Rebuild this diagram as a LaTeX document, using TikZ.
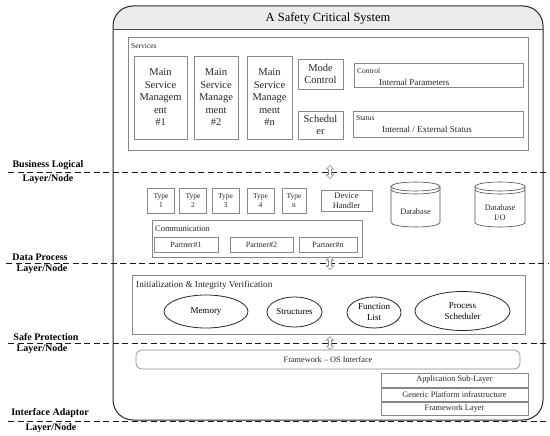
\documentclass[tikz,border=0pt]{standalone}
\usepackage{fontspec}
\setmainfont{Liberation Serif}
\usetikzlibrary{shapes.geometric,shapes.arrows}
\definecolor{boxgray}{RGB}{135,135,135}
\definecolor{titlefill}{RGB}{236,236,236}
\begin{document}
\begin{tikzpicture}[x=1pt,y=-1pt,
  box/.style={draw=boxgray, line width=0.6pt, inner sep=0pt, align=center, text=black!85},
  msm/.style={box, font=\fontsize{10.5}{12.5}\selectfont, minimum height=83pt},
  mid/.style={box, font=\fontsize{10.5}{12.5}\selectfont, minimum width=45pt},
  tiny/.style={inner sep=0pt, text=black!85, font=\fontsize{7.5}{9}\selectfont},
  small/.style={inner sep=0pt, text=black!85, font=\fontsize{8.5}{10}\selectfont},
  typebox/.style={box, font=\fontsize{7.5}{8.5}\selectfont, minimum width=27pt, minimum height=25pt},
  partner/.style={box, font=\fontsize{8}{9}\selectfont, minimum height=15pt},
  oval/.style={ellipse, draw=black!85, line width=0.8pt, inner sep=0pt, align=center, font=\fontsize{9}{11}\selectfont},
  stack/.style={box, font=\fontsize{8.3}{10}\selectfont, minimum width=147pt},
  cyl/.style={draw=black!70, line width=0.6pt},
  lab/.style={inner sep=0pt, font=\bfseries\fontsize{10}{12}\selectfont},
  layerline/.style={line width=0.9pt, dash pattern=on 6pt off 3.5pt, black!90},
  dblarrow/.style={double arrow, rotate=90, draw=boxgray, fill=white, line width=0.6pt, inner sep=1.2pt, minimum height=13pt, double arrow head extend=2.2pt}
]
\useasboundingbox (0,0) rectangle (550,436);

% outer system box
\begin{scope}
  \clip[rounded corners=20pt] (113,6) rectangle (543,420);
  \fill[titlefill] (113,6) rectangle (543,29);
\end{scope}
\draw[line width=1pt, black!85, rounded corners=20pt] (113,6) rectangle (543,420);
\draw[line width=0.6pt, black!70] (113,29) -- (543,29);
\node[inner sep=0pt, font=\fontsize{12.5}{14}\selectfont] (title) at (328,18) {A Safety Critical System};

% services
\node[box, minimum width=400pt, minimum height=113pt] (services) at (328,93.5) {};
\node[tiny, anchor=west] (servlab) at (131,46) {Services};
\node[msm, minimum width=53pt] (m1) at (160.5,97.5) {Main\\Service\\Managem\\ent\\\#1};
\node[msm, minimum width=44pt] (m2) at (216,97.5) {Main\\Service\\Manage\\ment\\\#2};
\node[msm, minimum width=45pt] (mn) at (269.5,97.5) {Main\\Service\\Manage\\ment\\\#n};
\node[mid, minimum height=30pt] (mode) at (320.5,74) {Mode\\Control};
\node[mid, minimum height=28pt] (sched) at (320.5,125) {Schedul\\er};
\node[box, minimum width=169pt, minimum height=24pt] (ctrl) at (438.5,75) {};
\node[tiny, anchor=west] (ctrllab) at (357,70.5) {Control};
\node[small, anchor=west, font=\fontsize{9}{11}\selectfont] (ctrltxt) at (379,82) {Internal Parameters};
\node[box, minimum width=170pt, minimum height=26pt] (stat) at (438,124) {};
\node[tiny, anchor=west] (statlab) at (356,118.5) {Status};
\node[small, anchor=west, font=\fontsize{9}{11}\selectfont] (stattxt) at (382,129) {Internal / External Status};

% data process
\node[typebox] (t1) at (161,200.5) {Type\\1};
\node[typebox] (t2) at (193,200.5) {Type\\2};
\node[typebox] (t3) at (225.5,200.5) {Type\\3};
\node[typebox] (t4) at (260.5,200.5) {Type\\4};
\node[typebox, minimum width=24pt] (tn) at (294,200.5) {Type\\n};
\node[box, font=\fontsize{8.5}{10}\selectfont, minimum width=51pt, minimum height=21pt] (dev) at (346.5,200.5) {Device\\Handler};

\node[box, minimum width=210pt, minimum height=37pt] (comm) at (257,238.5) {};
\node[small, anchor=west] (commlab) at (155,229) {Communication};
\node[partner, minimum width=64pt] (p1) at (186,244.5) {Partner\#1};
\node[partner, minimum width=63pt] (p2) at (261.5,244.5) {Partner\#2};
\node[partner, minimum width=58pt] (pn) at (328,244.5) {Partner\#n};

% databases
\draw[cyl] (391,186.5) -- (391,222.5) arc[start angle=180,end angle=0,x radius=24.5,y radius=4.5] -- (440,186.5);
\draw[cyl] (415.5,186.5) ellipse[x radius=24.5, y radius=4.5];
\draw[cyl] (391,189.5) arc[start angle=180,end angle=0,x radius=24.5,y radius=4.5];
\node[small, font=\fontsize{8.3}{10}\selectfont] (db1) at (415.5,212) {Database};
\draw[cyl] (475,186.5) -- (475,222.5) arc[start angle=180,end angle=0,x radius=25,y radius=4.5] -- (525,186.5);
\draw[cyl] (500,186.5) ellipse[x radius=25, y radius=4.5];
\draw[cyl] (475,189.5) arc[start angle=180,end angle=0,x radius=25,y radius=4.5];
\node[small, align=center, font=\fontsize{8.3}{10}\selectfont] (db2) at (500,212.5) {Database\\I/O};

% safe protection
\node[box, minimum width=393pt, minimum height=59pt] (init) at (328.5,304.5) {};
\node[small, anchor=west, font=\fontsize{9.2}{11}\selectfont] (initlab) at (136,285) {Initialization \& Integrity Verification};
\node[oval, minimum width=84pt, minimum height=33pt] (mem) at (206,311.5) {Memory};
\node[oval, minimum width=55pt, minimum height=30pt] (str) at (294.5,312) {Structures};
\node[oval, minimum width=54pt, minimum height=31pt] (fun) at (374,312.5) {Function\\List};
\node[oval, minimum width=95pt, minimum height=39pt] (proc) at (462.5,311) {Process\\Scheduler};

% interface adaptor
\node[box, rounded corners=6pt, font=\fontsize{8.3}{10}\selectfont, minimum width=384pt, minimum height=19pt] (fw) at (328,359.5) {Framework -- OS Interface};
\node[stack, minimum height=14pt] (app) at (454.5,380) {Application Sub-Layer};
\node[stack, minimum height=13pt] (gen) at (454.5,394.5) {Generic Platform infrastructure};
\node[stack, minimum height=13pt] (fwl) at (454.5,408.5) {Framework Layer};

% layer separators
\coordinate (b1) at (8,172);   \coordinate (b2) at (549,172);
\coordinate (d1) at (6,263);   \coordinate (d2) at (549,263);
\coordinate (s1) at (8,343);   \coordinate (s2) at (549,343);
\coordinate (i1) at (8,421);   \coordinate (i2) at (550,421);
\draw[layerline] (b1) -- (b2);
\draw[layerline] (d1) -- (d2);
\draw[layerline] (s1) -- (s2);
\draw[layerline] (i1) -- (i2);

\node[dblarrow] (a1) at (330,172) {};
\node[dblarrow] (a2) at (330,263) {};
\node[dblarrow] (a3) at (330,343) {};

% layer labels
\node[lab] (bl) at (48,165) {Business Logical};
\node[lab] (bln) at (48,179) {Layer/Node};
\node[lab] (dl) at (40,257) {Data Process};
\node[lab] (dln) at (42,269.5) {Layer/Node};
\node[lab] (sl) at (46,337) {Safe Protection};
\node[lab] (sln) at (42,349.5) {Layer/Node};
\node[lab] (il) at (50,413.5) {Interface Adaptor};
\node[lab] (iln) at (51,428) {Layer/Node};
\end{tikzpicture}
\end{document}
